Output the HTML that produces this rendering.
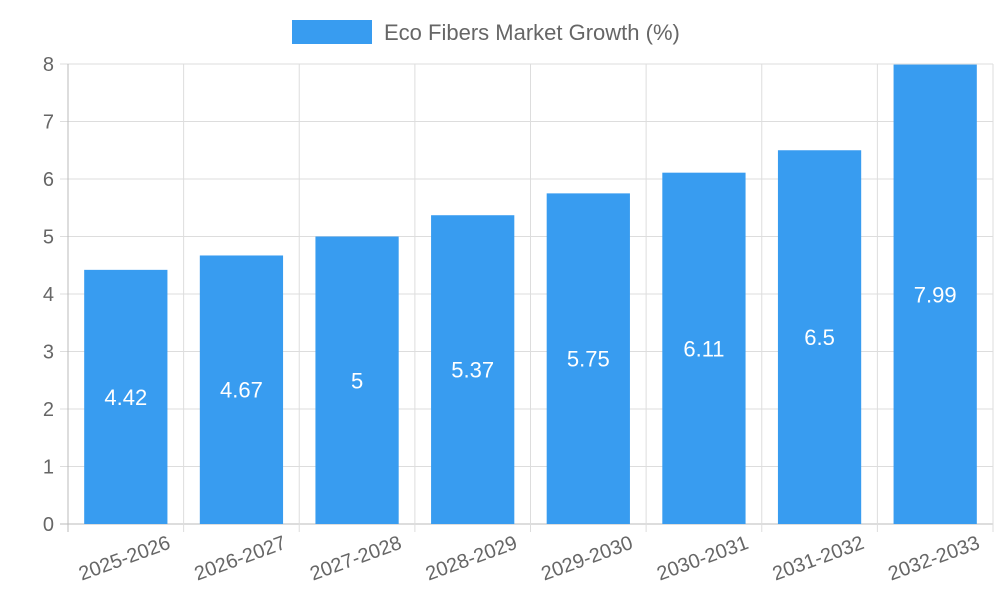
<!DOCTYPE html>
<html><head><meta charset="utf-8"><style>
body{margin:0;background:#fff;width:1000px;height:600px;overflow:hidden}
svg{font-family:"Liberation Sans",sans-serif}
</style></head><body>
<svg id="chart" width="1000" height="600">
<g>
<rect x="292" y="20" width="80" height="24" fill="#389cf0"/>
<text x="384" y="40" font-size="22" fill="#666">Eco Fibers Market Growth (%)</text>
</g>
<g id="grid"></g><g id="bars"></g><g id="axes"></g>
</svg>
<script>
const categories=["2025-2026","2026-2027","2027-2028","2028-2029","2029-2030","2030-2031","2031-2032","2032-2033"];
const values=[4.42,4.67,5,5.37,5.75,6.11,6.5,7.99];
const yTicks=[0,1,2,3,4,5,6,7,8];
const L=68,R=993,T=64,B=524,yMax=8;
const ns="http://www.w3.org/2000/svg";
const step=(R-L)/categories.length;
const y=v=>B-(v/yMax)*(B-T);
const x=i=>L+i*step;
function mk(tag,attrs,parent,txt){const e=document.createElementNS(ns,tag);for(const k in attrs)e.setAttribute(k,attrs[k]);if(txt!==undefined)e.textContent=txt;document.getElementById(parent).appendChild(e);return e;}
yTicks.forEach(t=>{
 const g=mk("line",{x1:L-8,x2:R,y1:y(t),y2:y(t),stroke:t===0?"#bbb":"#ddd","stroke-width":1},"grid");
 
 
 const l=mk("text",{x:L-14,y:y(t)+7,"text-anchor":"end","font-size":20,fill:"#666"},"axes",t);
 
 
});
for(let i=0;i<=categories.length;i++){
 const g=mk("line",{x1:x(i),x2:x(i),y1:T,y2:B+8,stroke:i===0?"#bbb":"#ddd","stroke-width":1},"grid");
 
 
}
const bw=step*0.72;
categories.forEach((c,i)=>{
 const cx=x(i)+step/2;
 const r=mk("rect",{x:cx-bw/2,y:y(values[i]),width:bw,height:B-y(values[i]),fill:"#389cf0"},"bars");
 
 
 const v=mk("text",{x:cx,y:(y(values[i])+B)/2+8,"text-anchor":"middle","font-size":22,fill:"#fff"},"bars",values[i]);
 
 
 const lx=x(i+1)-12,ly=B+24;
 const t=mk("text",{x:lx,y:ly,"text-anchor":"end","font-size":20,fill:"#666",transform:`rotate(-20 ${lx} ${ly})`},"axes",c);
 
 
});
</script>
</body></html>
